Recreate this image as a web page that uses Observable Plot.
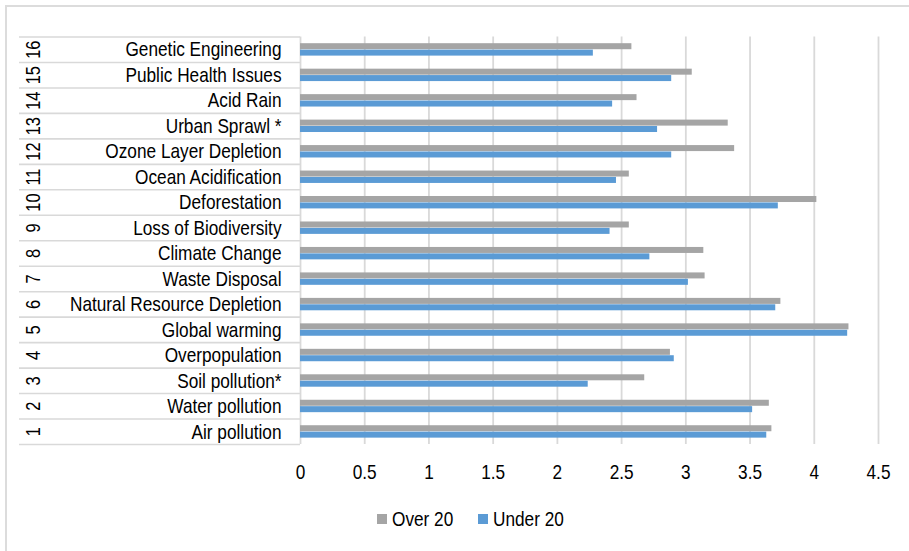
<!DOCTYPE html>
<html>
<head>
<meta charset="utf-8">
<script src="https://cdn.jsdelivr.net/npm/d3@7"></script>
<script src="https://cdn.jsdelivr.net/npm/@observablehq/plot@0.6"></script>
<style>
  html, body { margin: 0; padding: 0; background: #fff; overflow: hidden; }
  #wrap { position: relative; width: 909px; height: 551px; font-family: "Liberation Sans", Arial, sans-serif; }
  #frame { position: absolute; left: 5px; top: 5px; width: 1000px; height: 1000px; border: 2px solid #dcdcdc; box-sizing: border-box; pointer-events: none; }
  #chart { position: absolute; left: 0; top: 0; }
  .legend-item { position: absolute; top: 509px; height: 20px; display: flex; align-items: center; }
  .swatch { width: 10px; height: 10px; margin-right: 5px; flex: none; }
  .legend-label { font-size: 21px; color: #000; transform: scaleX(0.82); transform-origin: left center; white-space: nowrap; line-height: 20px; }
</style>
</head>
<body>
<div id="wrap">
  <div id="frame"></div>
  <div id="chart"></div>
</div>
<script>
// Environmental issues, rated by two age groups (1 = Air pollution ... 16 = Genetic Engineering)
const issueNumbers = [1, 2, 3, 4, 5, 6, 7, 8, 9, 10, 11, 12, 13, 14, 15, 16];
const issues = [
  "Air pollution",
  "Water pollution",
  "Soil pollution*",
  "Overpopulation",
  "Global warming",
  "Natural Resource Depletion",
  "Waste Disposal",
  "Climate Change",
  "Loss of Biodiversity",
  "Deforestation",
  "Ocean Acidification",
  "Ozone Layer Depletion",
  "Urban Sprawl *",
  "Acid Rain",
  "Public Health Issues",
  "Genetic Engineering"
];
const over20 = [3.67, 3.65, 2.68, 2.88, 4.27, 3.74, 3.15, 3.14, 2.56, 4.02, 2.56, 3.38, 3.33, 2.62, 3.05, 2.58];
const under20 = [3.63, 3.52, 2.24, 2.91, 4.26, 3.70, 3.02, 2.72, 2.41, 3.72, 2.46, 2.89, 2.78, 2.43, 2.89, 2.28];
const seriesNames = ["Over 20", "Under 20"];
const seriesColors = ["#A5A5A5", "#5B9BD5"];
const xTicks = [0, 0.5, 1, 1.5, 2, 2.5, 3, 3.5, 4, 4.5];

// Long-format rows for the bars
const rows = issues.flatMap((issue, i) => [
  {issue, num: issueNumbers[i], series: seriesNames[0], value: over20[i]},
  {issue, num: issueNumbers[i], series: seriesNames[1], value: under20[i]}
]);
const labelRows = issues.map((issue, i) => ({issue, num: issueNumbers[i]}));

const W = 909, H = 495;
const mTop = 36.5, mBottom = 51, mLeft = 300, mRight = 31;
const band = (H - mTop - mBottom) / issues.length;
const lineColor = "#d9d9d9";

const plot = Plot.plot({
  width: W,
  height: H,
  marginTop: mTop,
  marginBottom: mBottom,
  marginLeft: mLeft,
  marginRight: mRight,
  style: {fontFamily: "'Liberation Sans', Arial, sans-serif", fontSize: "21px", color: "#000", background: "transparent"},
  x: {domain: [0, 4.5], ticks: xTicks},
  y: {domain: issues.slice().reverse(), padding: 0, round: false},
  color: {domain: seriesNames, range: seriesColors},
  marks: [
    // vertical gridlines
    Plot.gridX(xTicks, {stroke: lineColor, strokeOpacity: 1, strokeWidth: 1.8}),
    // row separators of the category table (top of each row, plus the bottom of the last)
    Plot.ruleY(labelRows, {y: "issue", dy: -band / 2, stroke: lineColor, strokeWidth: 1.6, insetLeft: -(mLeft - 19), insetRight: (W - mRight) - mLeft}),
    Plot.ruleY(labelRows.slice(0, 1), {y: "issue", dy: band / 2, stroke: lineColor, strokeWidth: 1.6, insetLeft: -(mLeft - 19), insetRight: (W - mRight) - mLeft}),
    // Over 20 bars (upper half of each row)
    Plot.barX(rows.filter(d => d.series === seriesNames[0]), {x: "value", y: "issue", fill: "series", insetTop: 6.7, insetBottom: band - 12.7}),
    // Under 20 bars (lower half of each row)
    Plot.barX(rows.filter(d => d.series === seriesNames[1]), {x: "value", y: "issue", fill: "series", insetTop: 13.1, insetBottom: band - 19.1}),
    // outer category level: rotated issue numbers, centred in each row
    Plot.text(labelRows, {y: "issue", text: d => String(d.num), frameAnchor: "left", textAnchor: "middle", dx: -267, rotate: -90, fill: "#000", fontSize: 20}),
    Plot.axisY({tickSize: 0, tickPadding: 19, label: null}),
    Plot.axisX(xTicks, {tickSize: 0, tickPadding: 20, tickFormat: d => String(d), label: null})
  ]
});

document.getElementById("chart").appendChild(plot);

// Narrow the labels: compress each to 82% of its natural advance
plot.querySelectorAll("text").forEach(t => {
  const len = t.getComputedTextLength();
  if (len > 0) {
    t.setAttribute("textLength", (len * 0.82).toFixed(2));
    t.setAttribute("lengthAdjust", "spacingAndGlyphs");
  }
});

// Legend below the chart
const wrap = document.getElementById("wrap");
const legendLefts = [377, 478];
seriesNames.forEach((name, i) => {
  const item = document.createElement("div");
  item.className = "legend-item";
  item.style.left = legendLefts[i] + "px";
  const sw = document.createElement("div");
  sw.className = "swatch";
  sw.style.background = seriesColors[i];
  const lab = document.createElement("span");
  lab.className = "legend-label";
  lab.textContent = name;
  item.appendChild(sw);
  item.appendChild(lab);
  wrap.appendChild(item);
});
</script>
</body>
</html>
